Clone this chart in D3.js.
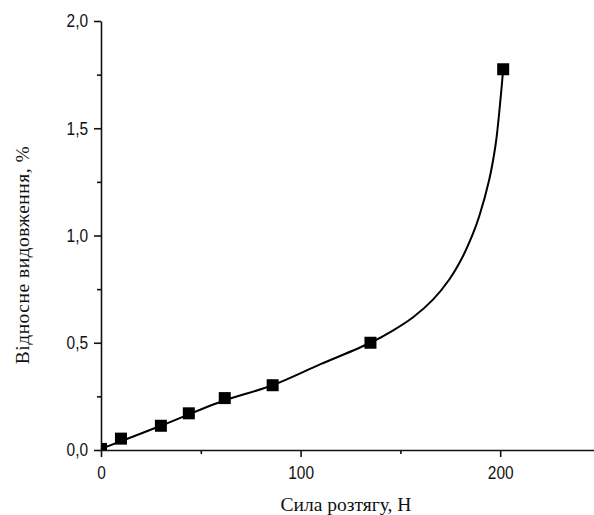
<!DOCTYPE html>
<html>
<head>
<meta charset="utf-8">
<script src="https://cdn.jsdelivr.net/npm/d3@7"></script>
</head>
<body style="margin:0;background:#fff">
<svg id="chart"></svg>
<script>
// measured points
const force = [0, 10, 30, 44, 62, 86, 135, 201.5];
const elong = [0.005, 0.053, 0.113, 0.171, 0.242, 0.302, 0.50, 1.775];

// smooth fit line
const fitX = [0, 30, 60, 86, 110, 135, 146.2, 156.2, 166.2, 174.5, 181.2, 186.2, 189.5, 194.5, 197.8, 200.3, 201.5];
const fitY = [0.005, 0.113, 0.225, 0.302, 0.40, 0.50, 0.557, 0.618, 0.70, 0.795, 0.901, 1.005, 1.09, 1.26, 1.43, 1.65, 1.775];

const xTicks = [0, 100, 200];
const xMinor = [50, 150];
const yTicks = [0, 0.5, 1.0, 1.5, 2.0];
const yMinor = [0.25, 0.75, 1.25, 1.75];

const xTitle = "Сила розтягу, Н";
const yTitle = "Відносне видовження, %";

var W = 594, H = 515;
var margin = {top: 21, right: 0, bottom: 65, left: 101};
var sansFont = "'Liberation Sans', Arial, sans-serif";
var serifFont = "'Liberation Serif', 'Times New Roman', serif";

var svg = d3.select("#chart").attr("width", W).attr("height", H);

var x = d3.scaleLinear().domain([0, 247]).range([margin.left, W - margin.right]);
var y = d3.scaleLinear().domain([0, 2]).range([H - margin.bottom, margin.top]);

var fmt = function(d) { return d3.format(".1f")(d).replace(".", ","); };

// style an axis group: dark lines, narrow-ish labels
function styleAxis(g) {
  g.selectAll("path, line").attr("stroke", "#111").attr("stroke-width", 1.6);
  g.selectAll("text")
    .attr("fill", "#111")
    .style("font-family", sansFont)
    .style("font-size", "18px");
}

// clip the plot area
svg.append("clipPath").attr("id", "plot")
  .append("rect")
    .attr("x", x(0)).attr("y", y(2))
    .attr("width", x(247) - x(0)).attr("height", y(0) - y(2));

// minor ticks
svg.append("g")
  .attr("transform", "translate(0," + y(0) + ")")
  .call(d3.axisBottom(x).tickValues(xMinor).tickSize(4).tickFormat(""))
  .call(g => g.select(".domain").remove())
  .call(styleAxis);
svg.append("g")
  .attr("transform", "translate(" + x(0) + ",0)")
  .call(d3.axisLeft(y).tickValues(yMinor).tickSize(4).tickFormat(""))
  .call(g => g.select(".domain").remove())
  .call(styleAxis);

// main axes
svg.append("g")
  .attr("transform", "translate(0," + y(0) + ")")
  .call(d3.axisBottom(x).tickValues(xTicks).tickSize(7).tickSizeOuter(0).tickPadding(9).tickFormat(d3.format("d")))
  .call(styleAxis)
  .call(g => g.selectAll(".tick text").attr("transform", "scale(0.86,1)"));

svg.append("g")
  .attr("transform", "translate(" + x(0) + ",0)")
  .call(d3.axisLeft(y).tickValues(yTicks).tickSize(7).tickSizeOuter(0).tickPadding(6).tickFormat(fmt))
  .call(styleAxis)
  .call(g => g.selectAll(".tick text").attr("x", -15).attr("transform", "scale(0.86,1)"));

// fitted curve
var fit = fitX.map(function(d, i) { return [d, fitY[i]]; });
var line = d3.line()
  .x(function(d) { return x(d[0]); })
  .y(function(d) { return y(d[1]); })
  .curve(d3.curveCatmullRom.alpha(0.5));

svg.append("path")
  .datum(fit)
  .attr("fill", "none")
  .attr("stroke", "#000")
  .attr("stroke-width", 2)
  .attr("d", line);

// square markers
var s = 12;
svg.append("g").attr("clip-path", "url(#plot)")
  .selectAll("rect")
  .data(force)
  .join("rect")
    .attr("x", function(d) { return x(d) - s / 2; })
    .attr("y", function(d, i) { return y(elong[i]) - s / 2; })
    .attr("width", s)
    .attr("height", s)
    .attr("fill", "#000");

// titles
svg.append("text")
  .attr("x", 346).attr("y", 511)
  .attr("text-anchor", "middle")
  .style("font-family", serifFont)
  .style("font-size", "19.5px")
  .attr("fill", "#111")
  .text(xTitle);

svg.append("text")
  .attr("transform", "translate(29,255) rotate(-90)")
  .attr("text-anchor", "middle")
  .style("font-family", serifFont)
  .style("font-size", "19.5px")
  .style("letter-spacing", "0.5px")
  .attr("fill", "#111")
  .text(yTitle);
</script>
</body>
</html>
